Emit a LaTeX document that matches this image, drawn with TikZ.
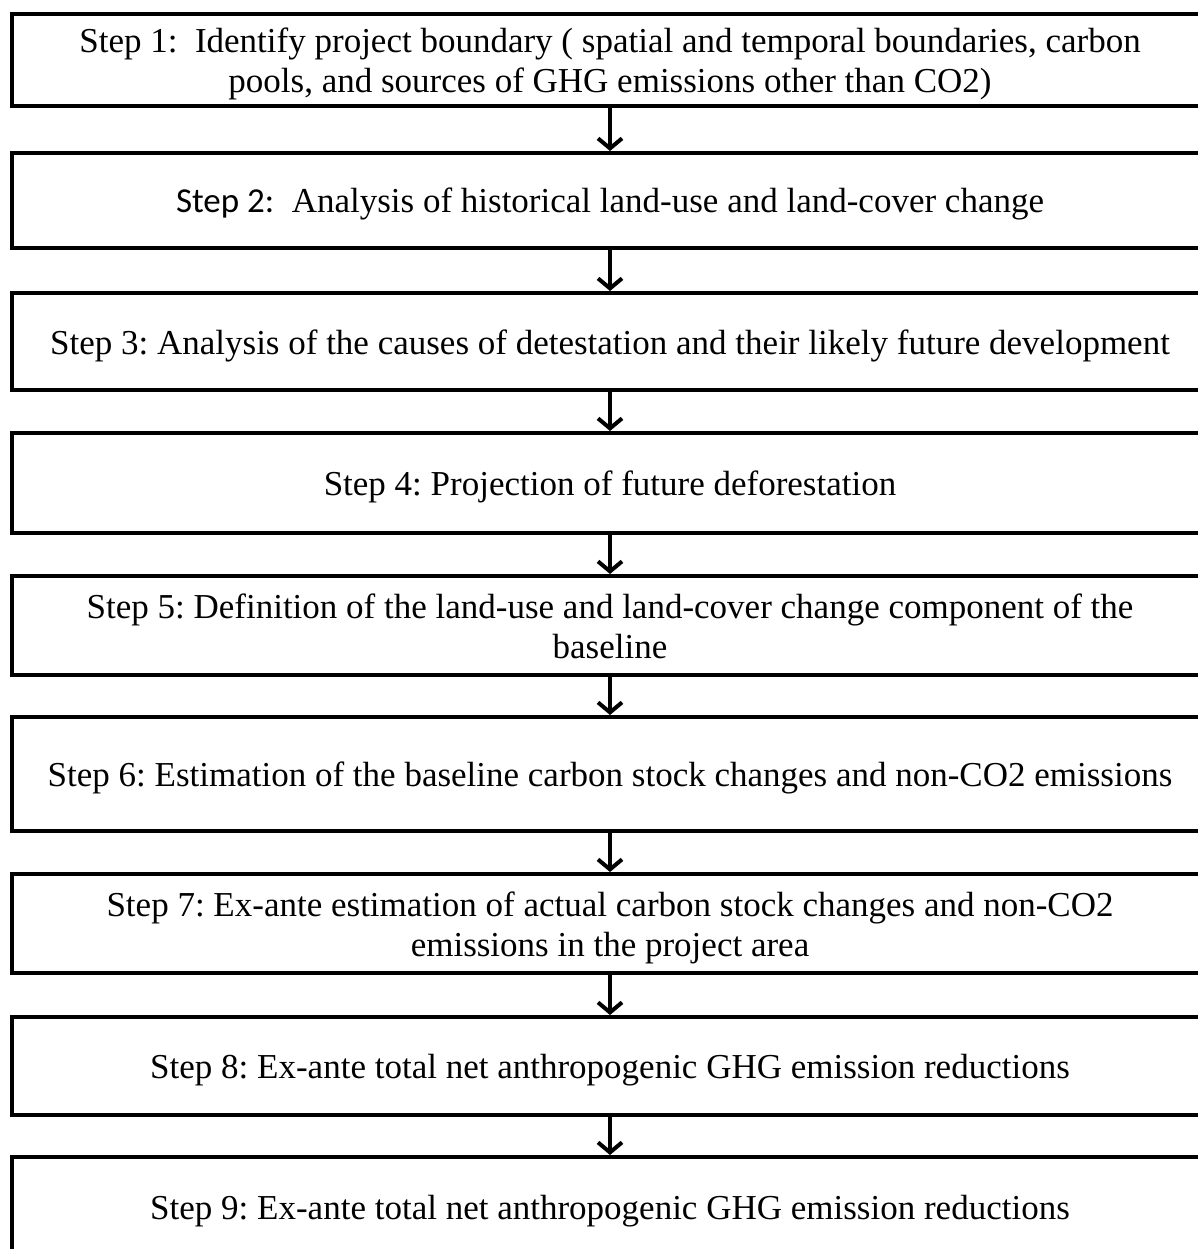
\documentclass[tikz,border=0pt]{standalone}
\usepackage{fontspec}
\setmainfont{Liberation Serif}
\newfontfamily\labelsans{Carlito}
\usetikzlibrary{arrows.meta}

% step text, centred line by line; the extra height on top sets it a little low in its box
\newcommand{\steptext}[1]{\raisebox{0pt}[\dimexpr\height+9pt\relax]{\begin{tabular}{@{}c@{}}#1\end{tabular}}}

\tikzset{
  stepbox/.style={draw=black, line width=4pt, fill=white, minimum width=1196pt,
    inner sep=0pt,
    font=\fontsize{35}{40}\selectfont\frenchspacing},
  flow/.style={line width=3.5pt, -{Straight Barb[length=10pt,width=24pt,line width=4pt]}}
}

\begin{document}
\begin{tikzpicture}[x=1pt,y=-1pt]
  \useasboundingbox (0,0) rectangle (1198,1249);
  \clip (0,0) rectangle (1198,1249);
  \fill[white] (0,0) rectangle (1198,1249);

  % the nine steps, one box each
  \node[stepbox, minimum height=92pt] (s1) at (610,60)
    {\steptext{Step 1:\ \ Identify project boundary ( spatial and temporal boundaries, carbon\\
     pools, and sources of GHG emissions other than CO2)}};
  \node[stepbox, minimum height=95pt] (s2) at (610,200.5)
    {\steptext{{\labelsans Step 2:}\ \ Analysis of historical land-use and land-cover change}};
  \node[stepbox, minimum height=97pt] (s3) at (610,341.5)
    {\steptext{Step 3: Analysis of the causes of detestation and their likely future development}};
  \node[stepbox, minimum height=100pt] (s4) at (610,483)
    {\steptext{Step 4: Projection of future deforestation}};
  \node[stepbox, minimum height=99pt] (s5) at (610,625.5)
    {\steptext{Step 5: Definition of the land-use and land-cover change component of the\\
     baseline}};
  \node[stepbox, minimum height=114pt] (s6) at (610,774)
    {\steptext{Step 6: Estimation of the baseline carbon stock changes and non-CO2 emissions}};
  \node[stepbox, minimum height=99pt] (s7) at (610,923.5)
    {\steptext{Step 7: Ex-ante estimation of actual carbon stock changes and non-CO2\\
     emissions in the project area}};
  \node[stepbox, minimum height=98pt] (s8) at (610,1066)
    {\steptext{Step 8: Ex-ante total net anthropogenic GHG emission reductions}};
  \node[stepbox, minimum height=100pt] (s9) at (610,1207)
    {\steptext{Step 9: Ex-ante total net anthropogenic GHG emission reductions}};

  % connectors between consecutive steps
  \foreach \a/\b in {s1/s2,s2/s3,s3/s4,s4/s5,s5/s6,s6/s7,s7/s8,s8/s9}
    \draw[flow] (\a.south) -- (\b.north);
\end{tikzpicture}
\end{document}
